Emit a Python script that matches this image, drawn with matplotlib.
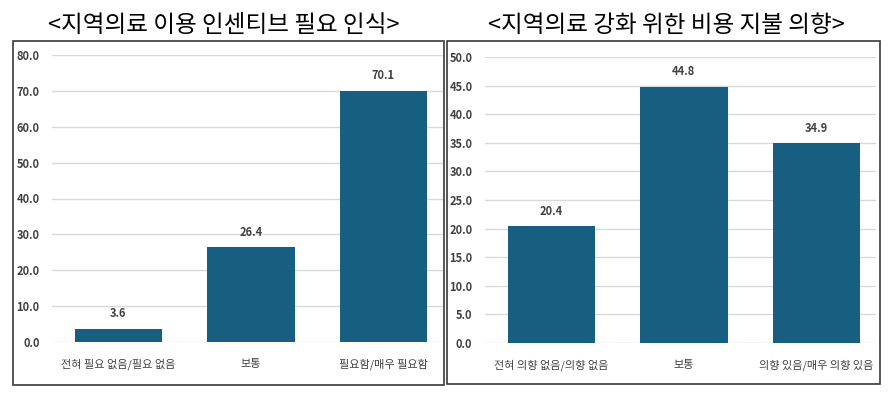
#!/usr/bin/env python3

from matplotlib import pyplot as plt
from matplotlib.patches import Rectangle

plt.rcParams['font.family'] = ['Noto Sans CJK KR', 'DejaVu Sans']

left_title = "<지역의료 이용 인센티브 필요 인식>"
left_cats = ["전혀 필요 없음/필요 없음", "보통", "필요함/매우 필요함"]
left_vals = [3.6, 26.4, 70.1]
left_ticks = [0, 10, 20, 30, 40, 50, 60, 70, 80]

right_title = "<지역의료 강화 위한 비용 지불 의향>"
right_cats = ["전혀 의향 없음/의향 없음", "보통", "의향 있음/매우 의향 있음"]
right_vals = [20.4, 44.8, 34.9]
right_ticks = [0, 5, 10, 15, 20, 25, 30, 35, 40, 45, 50]

BAR_COLOR = "#175e80"
TEXT_COLOR = "#404040"
W, H = 889, 395


def px_box(x0, y0, x1, y1):
    # pixel box (top-left origin) -> figure fraction rect
    return [x0 / W, 1 - y1 / H, (x1 - x0) / W, (y1 - y0) / H]


def draw_panel(fig, rect, frame, title, title_x, cats, vals, ticks):
    fx0, fy0, fx1, fy1 = frame
    fig.patches.append(Rectangle((fx0 / W, 1 - fy1 / H), (fx1 - fx0) / W, (fy1 - fy0) / H,
                                 transform=fig.transFigure, fill=False,
                                 edgecolor="#3a3a3a", linewidth=1.2))
    fig.text(title_x / W, 1 - 25 / H, title, ha="center", va="center",
             fontsize=17, fontweight="medium", color="black")

    ax = fig.add_axes(rect)
    xs = range(len(cats))
    ax.bar(xs, vals, width=0.66, color=BAR_COLOR, zorder=3)
    for x, v in zip(xs, vals):
        ax.text(x, v + ticks[-1] * 0.03, f"{v:.1f}", ha="center", va="bottom",
                fontsize=8, fontweight="bold", color=TEXT_COLOR)
    ax.set_ylim(0, ticks[-1])
    ax.set_xlim(-0.5, len(cats) - 0.55)
    ax.set_yticks(ticks)
    ax.set_yticklabels([f"{t:.1f}" for t in ticks], fontsize=8, fontweight="bold",
                       color=TEXT_COLOR)
    ax.set_xticks(list(xs))
    ax.set_xticklabels(cats, fontsize=8, fontweight="medium", color=TEXT_COLOR)
    ax.tick_params(length=0)
    ax.tick_params(axis="y", pad=9)
    ax.tick_params(axis="x", pad=12)
    ax.grid(axis="y", color="#d9d9d9", linewidth=1, zorder=0)
    for s in ax.spines.values():
        s.set_visible(False)
    return ax


def main():
    fig = plt.figure(figsize=(8.89, 3.95), dpi=100)

    draw_panel(fig, px_box(52, 55, 443, 342), (13, 41, 444, 385),
               left_title, 224, left_cats, left_vals, left_ticks)
    draw_panel(fig, px_box(485, 57, 876, 343), (447, 41, 880, 384),
               right_title, 666, right_cats, right_vals, right_ticks)

    fig.savefig("out.png", dpi=100)


if __name__ == '__main__':
    main()
